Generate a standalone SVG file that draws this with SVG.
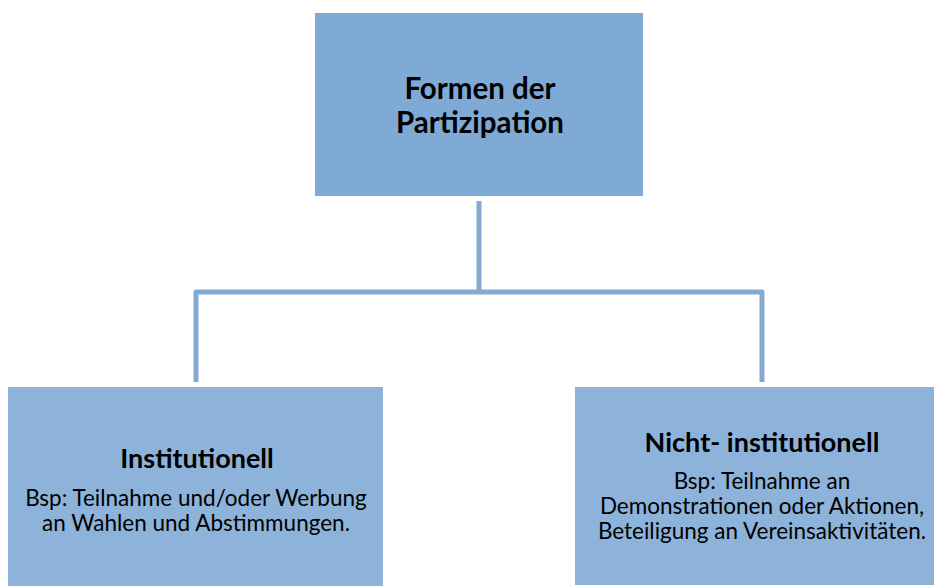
<svg xmlns="http://www.w3.org/2000/svg" width="934" height="586" viewBox="0 0 934 586">
<style>
.top{fill:#7FAAD5}
.sub{fill:#8DB3DA}
.conn{fill:none;stroke:#85A9D2;stroke-width:5;stroke-linejoin:round}
text{font-family:Lato,"Open Sans",sans-serif;fill:#000;text-anchor:middle}
.t1{font-weight:bold;font-size:29.5px}
.t2{font-weight:bold;font-size:27px}
.b{font-size:22.5px}
</style>
<rect width="934" height="586" fill="#fff"/>
<g id="connectors">
<path class="conn" d="M479 201 V292"/>
<path class="conn" d="M196 382 V292 H762 V382"/>
</g>
<g id="node-top">
<rect class="top" x="315" y="13" width="328" height="183"/>
<text class="t1" x="480" y="99">Formen der</text>
<text class="t1" x="480" y="133">Partizipation</text>
</g>
<g id="node-left">
<rect class="sub" x="8" y="387" width="375" height="199"/>
<text class="t2" x="197" y="468">Institutionell</text>
<text class="b" x="196" y="506">Bsp: Teilnahme und/oder Werbung</text>
<text class="b" x="196" y="531">an Wahlen und Abstimmungen.</text>
</g>
<g id="node-right">
<rect class="sub" x="575" y="387" width="359" height="198"/>
<text class="t2" x="762" y="452">Nicht- institutionell</text>
<text class="b" x="762" y="489">Bsp: Teilnahme an</text>
<text class="b" x="762" y="514">Demonstrationen oder Aktionen,</text>
<text class="b" x="762" y="539">Beteiligung an Vereinsaktivitäten.</text>
</g>
</svg>
